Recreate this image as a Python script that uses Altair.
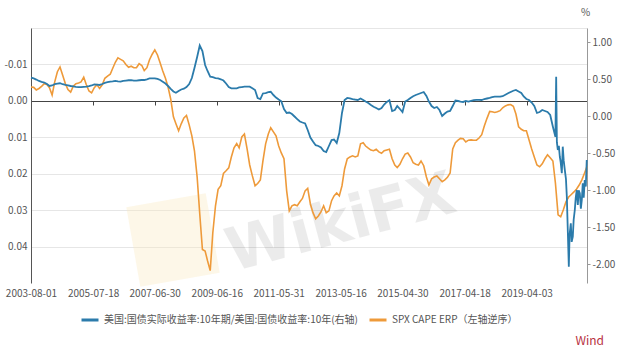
import altair as alt
import pandas as pd

FONT = "Noto Sans CJK SC"

blue_name = "美国:国债实际收益率:10年期/美国:国债收益率:10年(右轴)"
orange_name = "SPX CAPE ERP（左轴逆序）"

series_start = "2003-08-01"

# SPX CAPE ERP, monthly from 2003-08 (left axis, reversed)
orange_vals = [
    -0.0038, -0.0037, -0.0030, -0.0034, -0.0040, -0.0047, -0.0045, -0.0036, -0.0016, -0.0052, -0.0080, -0.0093,
    -0.0070, -0.0047, -0.0031, -0.0024, -0.0040, -0.0047, -0.0049, -0.0052, -0.0065, -0.0044, -0.0027, -0.0022,
    -0.0036, -0.0044, -0.0034, -0.0044, -0.0062, -0.0068, -0.0073, -0.0089, -0.0106, -0.0118, -0.0114, -0.0110,
    -0.0100, -0.0092, -0.0095, -0.0091, -0.0091, -0.0102, -0.0097, -0.0083, -0.0091, -0.0113, -0.0128, -0.0140,
    -0.0126, -0.0104, -0.0082, -0.0062, -0.0038, -0.0005, 0.0044, 0.0063, 0.0082, 0.0063, 0.0047, 0.0040,
    0.0066, 0.0096, 0.0137, 0.0209, 0.0310, 0.0408, 0.0412, 0.0439, 0.0466, 0.0362, 0.0288, 0.0243,
    0.0233, 0.0199, 0.0192, 0.0184, 0.0154, 0.0129, 0.0117, 0.0129, 0.0099, 0.0091, 0.0132, 0.0176,
    0.0206, 0.0233, 0.0227, 0.0217, 0.0165, 0.0118, 0.0091, 0.0074, 0.0085, 0.0096, 0.0124, 0.0143,
    0.0159, 0.0247, 0.0302, 0.0288, 0.0285, 0.0288, 0.0277, 0.0268, 0.0247, 0.0240, 0.0283, 0.0307,
    0.0324, 0.0316, 0.0305, 0.0288, 0.0307, 0.0302, 0.0274, 0.0261, 0.0253, 0.0261, 0.0233, 0.0187,
    0.0159, 0.0154, 0.0151, 0.0154, 0.0151, 0.0118, 0.0115, 0.0124, 0.0130, 0.0135, 0.0137, 0.0133,
    0.0140, 0.0144, 0.0137, 0.0135, 0.0133, 0.0159, 0.0176, 0.0183, 0.0174, 0.0159, 0.0146, 0.0143,
    0.0154, 0.0170, 0.0174, 0.0176, 0.0165, 0.0178, 0.0209, 0.0231, 0.0214, 0.0209, 0.0206, 0.0214,
    0.0222, 0.0217, 0.0210, 0.0198, 0.0132, 0.0115, 0.0108, 0.0103, 0.0104, 0.0113, 0.0108, 0.0107,
    0.0108, 0.0108, 0.0102, 0.0093, 0.0069, 0.0048, 0.0029, 0.0030, 0.0032, 0.0030, 0.0027, 0.0019,
    0.0014, 0.0011, 0.0010, 0.0015, 0.0036, 0.0071, 0.0078, 0.0082, 0.0082, 0.0107, 0.0132, 0.0154,
    0.0176, 0.0181, 0.0173, 0.0159, 0.0148, 0.0156, 0.0165, 0.0225, 0.0313, 0.0318, 0.0299, 0.0277,
    0.0264, 0.0257, 0.0250, 0.0242, 0.0231, 0.0217, 0.0198, 0.0180,
]

# real / nominal 10y yield ratio, monthly from 2003-08 to 2020-02 (right axis)
blue_monthly = [
    0.522, 0.512, 0.497, 0.478, 0.467, 0.457, 0.437, 0.410, 0.417, 0.434, 0.441, 0.447,
    0.434, 0.424, 0.417, 0.410, 0.405, 0.399, 0.396, 0.394, 0.399, 0.402, 0.407, 0.417,
    0.430, 0.429, 0.424, 0.437, 0.453, 0.461, 0.468, 0.472, 0.478, 0.472, 0.469, 0.478,
    0.483, 0.488, 0.490, 0.484, 0.484, 0.488, 0.491, 0.491, 0.501, 0.512, 0.514, 0.514,
    0.505, 0.491, 0.468, 0.444, 0.410, 0.372, 0.336, 0.318, 0.342, 0.363, 0.373, 0.396,
    0.437, 0.518, 0.654, 0.802, 0.958, 0.884, 0.694, 0.613, 0.536, 0.529, 0.518, 0.512,
    0.501, 0.484, 0.444, 0.396, 0.379, 0.379, 0.379, 0.390, 0.396, 0.401, 0.401, 0.401,
    0.380, 0.356, 0.248, 0.234, 0.309, 0.315, 0.326, 0.332, 0.288, 0.254, 0.227, 0.204,
    0.099, 0.045, 0.051, 0.031, -0.003, -0.037, -0.070, -0.084, -0.097, -0.185, -0.287, -0.341,
    -0.391, -0.402, -0.422, -0.470, -0.483, -0.402, -0.321, -0.314, -0.361, -0.226, 0.045, 0.221,
    0.248, 0.244, 0.234, 0.227, 0.221, 0.241, 0.221, 0.200, 0.180, 0.153, 0.130, 0.112,
    0.092, 0.112, 0.160, 0.194, 0.217, 0.072, 0.085, 0.139, 0.099, 0.058, 0.200, 0.221,
    0.248, 0.272, 0.288, 0.302, 0.315, 0.329, 0.275, 0.200, 0.139, 0.112, 0.126, 0.085,
    0.004, 0.038, 0.065, 0.072, 0.139, 0.214, 0.207, 0.200, 0.194, 0.207, 0.200, 0.210,
    0.218, 0.221, 0.223, 0.221, 0.234, 0.241, 0.248, 0.258, 0.265, 0.265, 0.265, 0.272,
    0.291, 0.311, 0.329, 0.346, 0.356, 0.336, 0.315, 0.268, 0.234, 0.221, 0.187, 0.139,
    0.045, 0.058, 0.085, 0.072, 0.058, 0.018, -0.141,
]

# finer readings from 2020-03 on
blue_tail_dates = [
    "2020-03-01", "2020-03-10", "2020-03-18", "2020-03-29", "2020-04-10", "2020-04-21", "2020-05-01",
    "2020-05-14", "2020-05-25", "2020-06-05", "2020-06-18", "2020-07-01", "2020-07-11", "2020-07-22",
    "2020-08-03", "2020-08-12", "2020-08-26", "2020-09-05", "2020-09-18", "2020-09-28", "2020-10-11",
    "2020-10-22", "2020-11-03", "2020-11-15", "2020-11-25", "2020-12-08", "2020-12-20", "2020-12-31",
    "2021-01-11", "2021-01-22", "2021-02-03", "2021-02-15", "2021-02-26",
]
blue_tail_vals = [
    -0.276, 0.536, -0.350, -0.456, -0.400, -0.547, -0.620,
    -0.771, -0.411, -0.600, -0.727, -0.850, -1.088, -1.539,
    -2.035, -1.600, -1.448, -1.700, -1.629, -1.400, -1.268,
    -1.100, -0.997, -1.200, -1.000, -1.042, -1.250, -1.133,
    -0.907, -1.100, -0.862, -0.950, -0.591,
]

tick_dates = ["2003-08-01", "2005-07-18", "2007-06-30", "2009-06-16", "2011-05-31",
              "2013-05-16", "2015-04-30", "2017-04-18", "2019-04-03"]
x_domain = ["2003-08-01", "2021-03-01"]
left_ticks = [-0.02, -0.01, 0.0, 0.01, 0.02, 0.03, 0.04]
left_domain = [-0.02, 0.05]
right_ticks = [-2.0, -1.5, -1.0, -0.5, 0.0, 0.5, 1.0]
right_domain = [-2.256, 1.195]

BLUE = "#2b7bab"
ORANGE = "#ee9a3a"


def dt(s):
    y, m, d = (int(p) for p in s.split("-"))
    return alt.DateTime(year=y, month=m, date=d)


orange_df = pd.DataFrame({
    "date": pd.date_range(series_start, periods=len(orange_vals), freq="MS"),
    "value": orange_vals,
    "series": orange_name,
})
blue_df = pd.DataFrame({
    "date": list(pd.date_range(series_start, periods=len(blue_monthly), freq="MS"))
            + list(pd.to_datetime(blue_tail_dates)),
    "value": blue_monthly + blue_tail_vals,
    "series": blue_name,
})

tick_vals = [dt(s) for s in tick_dates]
xscale = alt.Scale(domain=[dt(s) for s in x_domain], nice=False)

color_scale = alt.Scale(domain=[blue_name, orange_name], range=[BLUE, ORANGE])
legend = alt.Legend(
    title=None, orient="none", direction="horizontal", legendX=49, legendY=282,
    symbolType="stroke", symbolStrokeWidth=3, symbolSize=289,
    labelFontSize=10, labelColor="#555", labelFont=FONT, labelLimit=400,
    columnPadding=5, labelOffset=4, padding=0,
)

fix_minus = "replace(format(datum.value, '.2f'), '\u2212', '-')"

x_label_axis = alt.Axis(
    orient="bottom", values=tick_vals, format="%Y-%m-%d", domain=False, ticks=False,
    grid=False, labelPadding=5, labelFontSize=10, labelColor="#555", labelFont=FONT,
    title=None, labelOverlap=False, labelFlush=False,
)
x_zero_axis = alt.Axis(
    orient="bottom", values=tick_vals, labels=False, domain=True, domainColor="#444",
    domainWidth=1, ticks=True, tickSize=4, tickColor="#444", grid=False, title=None,
    offset=-182,
)

left_axis = alt.Axis(
    orient="left", values=left_ticks,
    labelExpr="datum.value < -0.015 ? '' : " + fix_minus,
    grid=True, gridColor="#e6e6e6", domain=True, domainColor="#555", ticks=False,
    labelPadding=4, labelFontSize=10, labelColor="#555", labelFont=FONT, title=None,
)
right_axis = alt.Axis(
    orient="right", values=right_ticks, labelExpr=fix_minus, grid=False,
    domain=True, domainColor="#999", ticks=True, tickSize=3, tickColor="#999",
    labelPadding=2, labelFontSize=10, labelColor="#555", labelFont=FONT,
    title="%", titleAngle=0, titleX=-2, titleY=-16, titleAlign="center",
    titleBaseline="middle", titleFontSize=10, titleFontWeight="normal",
    titleColor="#555", titleFont=FONT,
)

logo = alt.Chart(pd.DataFrame({"t": ["logo"]})).mark_point(
    shape="square", filled=True, size=6500, color="#f9e7bd", opacity=0.35, angle=350,
).encode(x=alt.value(142), y=alt.value(212))

watermark = alt.Chart(pd.DataFrame({"t": ["WikiFX"]})).mark_text(
    font="DejaVu Sans", fontSize=60, fontWeight="bold", color="#000", opacity=0.075,
    angle=345, align="center", baseline="middle",
).encode(x=alt.value(310), y=alt.value(196), text="t:N")

orange = alt.Chart(orange_df).mark_line(strokeWidth=1.6).encode(
    x=alt.X("date:T", scale=xscale, axis=x_label_axis),
    y=alt.Y("value:Q", scale=alt.Scale(domain=left_domain, reverse=True, zero=False, nice=False),
            axis=left_axis),
    color=alt.Color("series:N", scale=color_scale, legend=legend),
)

blue = alt.Chart(blue_df).mark_line(strokeWidth=1.8).encode(
    x=alt.X("date:T", scale=xscale, axis=x_zero_axis),
    y=alt.Y("value:Q", scale=alt.Scale(domain=right_domain, zero=False, nice=False),
            axis=right_axis),
    color=alt.Color("series:N", scale=color_scale, legend=legend),
)

wind = alt.Chart(pd.DataFrame({"t": ["Wind"]})).mark_text(
    font=FONT, fontSize=12, color="#b8323f", align="right", baseline="middle",
).encode(x=alt.value(573), y=alt.value(313), text="t:N")

chart = alt.layer(logo, watermark, orange, blue, wind).resolve_scale(
    x="independent", y="independent"
).properties(
    width=556, height=255,
    padding={"left": 31, "top": 28, "right": 35, "bottom": 68},
    autosize=alt.AutoSizeParams(type="none"),
    background="white",
).configure_view(strokeWidth=0)

chart.save("out.html", embed_options={"renderer": "svg", "actions": False})
